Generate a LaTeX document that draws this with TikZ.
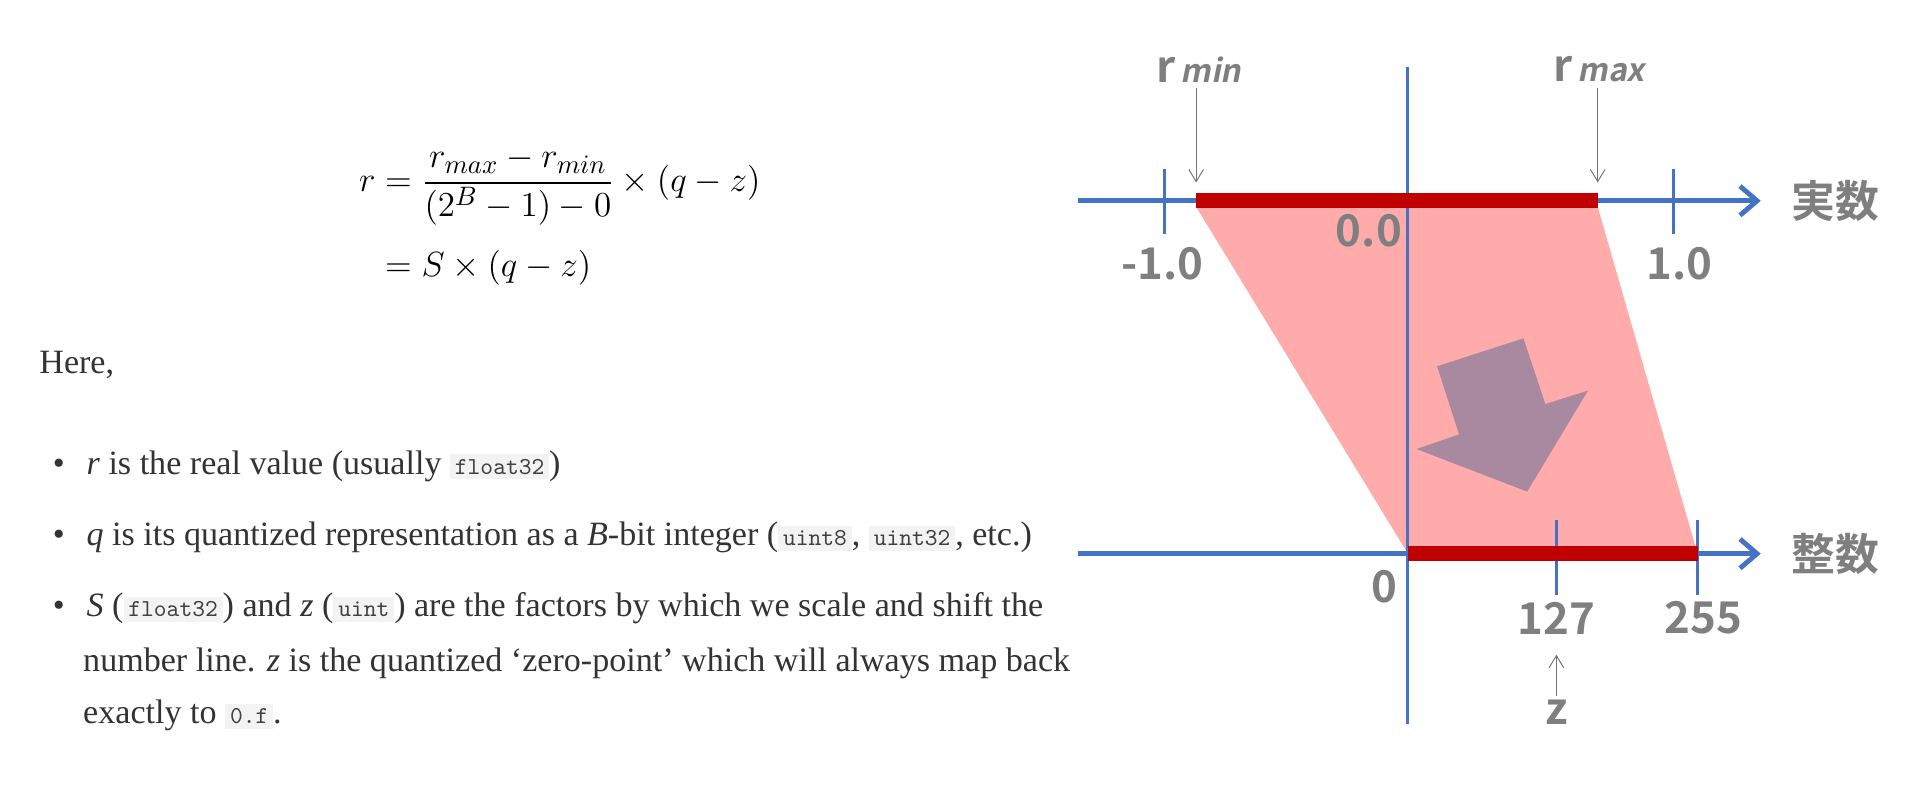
\documentclass[tikz,border=0pt]{standalone}
\usepackage{amsmath}
\usepackage{fontspec}
\setmainfont{Liberation Serif}
\newfontfamily\cjkb{Noto Sans CJK JP Bold}
\newfontfamily\cjkbi[FakeSlant=0.2]{Noto Sans CJK JP Bold}
\usetikzlibrary{arrows.meta}
\definecolor{axblue}{HTML}{4472C4}
\definecolor{barred}{HTML}{C00000}
\definecolor{lab}{HTML}{7F7F7F}
\definecolor{pinkf}{HTML}{FFABAB}
\definecolor{arrf}{HTML}{A8899F}
\definecolor{codebg}{HTML}{F3F3F3}
\newcommand{\cd}[1]{\setlength{\fboxsep}{2pt}\colorbox{codebg}{\ttfamily\fontsize{10}{11}\selectfont\color{black!75}#1}}
\begin{document}
\begin{tikzpicture}[x=0.5pt,y=-0.5pt,
  axis/.style={draw=axblue,line width=2pt},
  tick/.style={draw=axblue,line width=1.2pt},
  bar/.style={draw=barred,line width=6pt},
  lbl/.style={text=lab,font=\cjkb\fontsize{18}{20}\selectfont,inner sep=0pt},
  pt/.style={draw=black!55,line width=0.4pt,-{Straight Barb[length=5pt,width=6pt]}},
  body/.style={anchor=west,inner sep=0pt,font=\fontsize{14}{16}\selectfont,text=black!80}]
\useasboundingbox (0,0) rectangle (1568,654);
% left text
\node (eq) at (460,180) {\fontsize{15.5}{19}\selectfont$\begin{aligned} r &= \frac{r_{max}-r_{min}}{(2^B-1)-0}\times(q-z)\\[4pt] &= S\times(q-z)\end{aligned}$};
\node[body] (here) at (32,300) {Here,};
\node[body] (b1) at (43,383) {\textbullet\hspace{9pt}\textit{r} is the real value (usually \cd{float32})};
\node[body] (b2) at (43,442) {\textbullet\hspace{9pt}\textit{q} is its quantized representation as a \textit{B}-bit integer (\cd{uint8}, \cd{uint32}, etc.)};
\node[body] (b3) at (43,500) {\textbullet\hspace{9pt}\textit{S} (\cd{float32}) and \textit{z} (\cd{uint}) are the factors by which we scale and shift the};
\node[body] (b4) at (68,545) {number line. \textit{z} is the quantized ‘zero-point’ which will always map back};
\node[body] (b5) at (68,588) {exactly to \cd{0.f}.};
% diagram
\fill[pinkf] (983,170) -- (1313,170) -- (1395,455) -- (1157,455) -- cycle;
\fill[arrf] (1252,278) -- (1270,332) -- (1305,321) -- (1255,404) -- (1164,369) -- (1199,357) -- (1181,301) -- cycle;
\coordinate (t0) at (886,165); \coordinate (t1) at (1447,165);
\coordinate (u0) at (886,455); \coordinate (u1) at (1447,455);
\draw[axis,-{Straight Barb[length=7pt,width=12pt,line width=2pt]}] (t0) -- (t1);
\draw[axis,-{Straight Barb[length=7pt,width=12pt,line width=2pt]}] (u0) -- (u1);
\draw[tick] (1157,55) -- (1157,595);
\draw[tick] (957,139) -- (957,192);
\draw[tick] (1375,139) -- (1375,192);
\draw[tick] (1279,427) -- (1279,489);
\draw[tick] (1395,427) -- (1395,489);
\draw[bar] (983,165) -- (1313,165);
\draw[bar] (1157,455) -- (1395,455);
\node[lbl] (jit) at (1508,165) {実数};
\node[lbl] (sei) at (1508,455) {整数};
\node[lbl] (m1) at (955,217) {-1.0};
\node[lbl] (z0) at (1125,190) {0.0};
\node[lbl] (p1) at (1380,217) {1.0};
\node[lbl] (q0) at (1138,482) {0};
\node[lbl] (q127) at (1279,508) {127};
\node[lbl] (q255) at (1400,508) {255};
\node[lbl] (zl) at (1279,585) {z};
\node[lbl] (rmin) at (985,57) {r{\cjkbi\fontsize{13}{14}\selectfont\,min}};
\node[lbl] (rmax) at (1314,57) {r{\cjkbi\fontsize{13}{14}\selectfont\,max}};
\coordinate (rminT) at (983,150); \coordinate (rmaxT) at (1313,150);
\coordinate (zT) at (1279,538);
\draw[pt] (983,72) -- (rminT);
\draw[pt] (1313,72) -- (rmaxT);
\draw[pt] (1279,572) -- (zT);
\end{tikzpicture}
\end{document}
